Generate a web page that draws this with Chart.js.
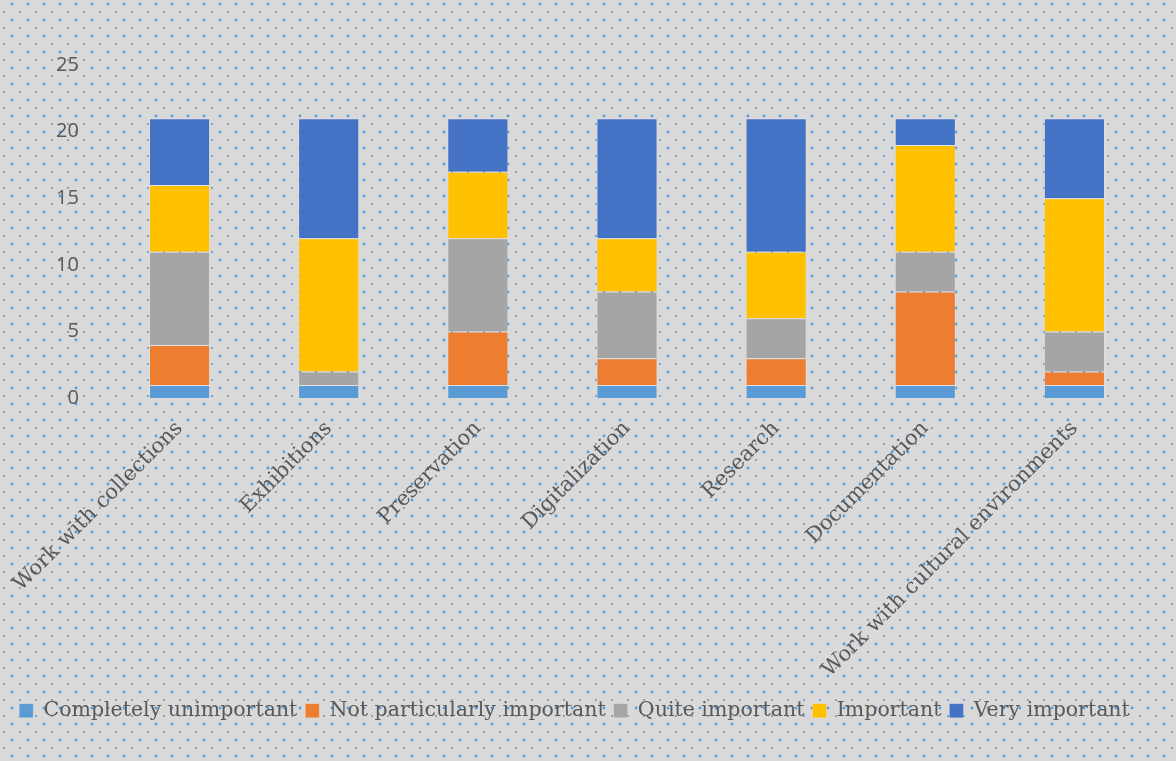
<!DOCTYPE html>
<html>
<head>
<meta charset="utf-8">
<script src="https://cdn.jsdelivr.net/npm/chart.js@4/dist/chart.umd.min.js"></script>
<style>
  html, body { margin: 0; padding: 0; background: #d9d9d9; }
  #wrap { width: 1176px; height: 761px; }
</style>
</head>
<body>
<div id="wrap"><canvas id="chart" width="1176" height="761"></canvas></div>
<script>
const categories = [
  "Work with collections", "Exhibitions", "Preservation", "Digitalization",
  "Research", "Documentation", "Work with cultural environments"
];
const completelyUnimportant = [1, 1, 1, 1, 1, 1, 1];
const notParticularlyImportant = [3, 0, 4, 2, 2, 7, 1];
const quiteImportant = [7, 1, 7, 5, 3, 3, 3];
const important = [5, 10, 5, 4, 5, 8, 10];
const veryImportant = [5, 9, 4, 9, 10, 2, 6];
const yTicks = [0, 5, 10, 15, 20, 25];

const serif = "Georgia, 'DejaVu Serif', serif";

// grey background with the blue dot lattice
const dottedBackground = {
  id: "dottedBackground",
  beforeDraw(chart) {
    const ctx = chart.ctx;
    const w = chart.width, h = chart.height;
    ctx.save();
    ctx.fillStyle = "#d9d9d9";
    ctx.fillRect(0, 0, w, h);
    ctx.fillStyle = "#5b9bd5";
    for (let y = 4, row = 0; y < h; y += 8, row++) {
      const off = row % 2 === 0 ? 8 : 0;
      for (let x = off + 4; x < w; x += 16) {
        ctx.beginPath();
        ctx.arc(x, y, row % 2 === 0 ? 1.4 : 1.1, 0, Math.PI * 2);
        ctx.fill();
      }
    }
    ctx.restore();
  }
};

const ds = (label, data, color) => ({
  label, data,
  backgroundColor: color,
  borderColor: "rgba(255,255,255,0.2)",
  borderWidth: 1,
  barPercentage: 0.41,
  categoryPercentage: 1
});

new Chart(document.getElementById("chart").getContext("2d"), {
  type: "bar",
  data: {
    labels: categories,
    datasets: [
      ds("Completely unimportant", completelyUnimportant, "#5b9bd5"),
      ds("Not particularly important", notParticularlyImportant, "#ed7d31"),
      ds("Quite important", quiteImportant, "#a5a5a5"),
      ds("Important", important, "#ffc000"),
      ds("Very important", veryImportant, "#4472c4")
    ]
  },
  options: {
    responsive: false,
    animation: false,
    layout: { padding: { top: 65, right: 27, left: 0, bottom: 30 } },
    scales: {
      x: {
        stacked: true,
        grid: { display: false },
        border: { display: false },
        ticks: {
          color: "#595959",
          font: { family: serif, size: 21 },
          minRotation: 45,
          maxRotation: 45,
          autoSkip: false,
          padding: 10
        }
      },
      y: {
        stacked: true,
        min: 0,
        max: 25,
        grid: { display: false },
        border: { display: false },
        afterBuildTicks: scale => { scale.ticks = yTicks.map(v => ({ value: v })); },
        afterFit: scale => { scale.width = 100; },
        ticks: {
          color: "#595959",
          font: { family: "'Open Sans', sans-serif", size: 20 },
          padding: 18
        }
      }
    },
    plugins: {
      legend: {
        position: "bottom",
        labels: {
          color: "#595959",
          font: { family: serif, size: 20.5 },
          boxWidth: 14,
          boxHeight: 14,
          padding: 8
        }
      },
      tooltip: { enabled: false }
    }
  },
  plugins: [dottedBackground]
});
</script>
</body>
</html>
